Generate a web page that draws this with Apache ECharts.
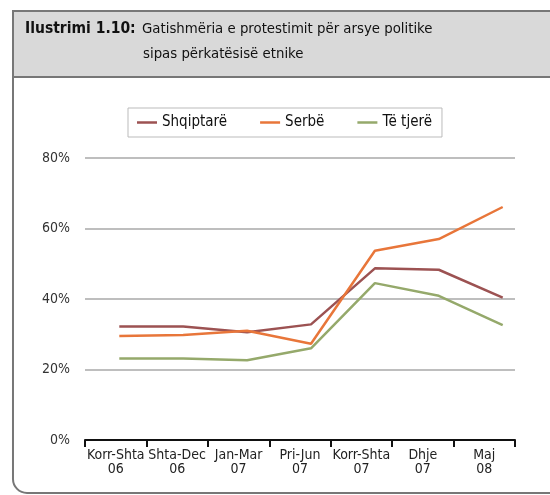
<!DOCTYPE html>
<html>
<head>
<meta charset="utf-8">
<script src="https://cdn.jsdelivr.net/npm/echarts@6/dist/echarts.min.js"></script>
<style>
  html, body { margin: 0; padding: 0; background: #fff; }
  #chart { width: 550px; height: 495px; }
</style>
</head>
<body>
<div id="chart"></div>
<script>
// periudhat e anketës
const categories = ['Korr-Shta\n06', 'Shta-Dec\n06', 'Jan-Mar\n07', 'Pri-Jun\n07', 'Korr-Shta\n07', 'Dhje\n07', 'Maj\n08']
const seriesNames = ['Shqiptarë', 'Serbë', 'Të tjerë']
const shqiptare = [32.2, 32.2, 30.6, 32.8, 48.7, 48.3, 40.4]
const serbe = [29.5, 29.8, 31.0, 27.3, 53.7, 57.0, 66.1]
const teTjere = [23.1, 23.1, 22.6, 26.0, 44.5, 40.9, 32.6]
const yTicks = [0, 20, 40, 60, 80]

const font = "'Liberation Sans Narrow', 'DejaVu Sans Condensed', sans-serif"
const colors = ['#9c5252', '#e8763a', '#95a96b']

const chart = echarts.init(document.getElementById('chart'))

const lineSeries = (name, data, color) => ({
  name: name,
  type: 'line',
  xAxisIndex: 1,
  yAxisIndex: 1,
  data: data,
  symbol: 'none',
  lineStyle: { color: color, width: 2.5 },
  itemStyle: { color: color }
})

chart.setOption({
  animation: false,
  textStyle: { fontFamily: font },
  graphic: [
    // korniza
    {
      type: 'rect', z: -10,
      shape: { x: 13, y: 11, width: 560, height: 482, r: [0, 0, 0, 14] },
      style: { fill: '#fff', stroke: '#777', lineWidth: 2 }
    },
    {
      type: 'rect', z: -9,
      shape: { x: 13, y: 11, width: 560, height: 66 },
      style: { fill: '#d9d9d9', stroke: '#777', lineWidth: 2 }
    },
    {
      type: 'text', left: 25, top: 21,
      style: { text: 'Ilustrimi 1.10:', font: 'bold 15.5px ' + font, fill: '#111' }
    },
    {
      type: 'text', left: 142, top: 22,
      style: { text: 'Gatishmëria e protestimit për arsye politike', font: '14.8px ' + font, fill: '#111' }
    },
    {
      type: 'text', left: 143, top: 47,
      style: { text: 'sipas përkatësisë etnike', font: '14.8px ' + font, fill: '#111' }
    }
  ],
  legend: {
    left: 128,
    top: 108,
    data: seriesNames,
    icon: 'rect',
    itemWidth: 20,
    itemHeight: 2.5,
    itemGap: 33,
    padding: [7, 10, 7, 9],
    borderColor: '#bbb',
    borderWidth: 1,
    textStyle: { fontSize: 15, color: '#111', fontFamily: font }
  },
  grid: [
    { left: 85, right: 35, top: 158, bottom: 55 },
    { left: 119.3, right: 47.3, top: 158, bottom: 55 }
  ],
  xAxis: [
    {
      type: 'category',
      gridIndex: 0,
      data: categories,
      boundaryGap: true,
      axisLine: { lineStyle: { color: '#111', width: 2 } },
      axisTick: { show: true, length: 7, lineStyle: { color: '#111', width: 2 } },
      axisLabel: { interval: 0, fontSize: 14, color: '#222', lineHeight: 14, margin: 8 }
    },
    {
      type: 'category',
      gridIndex: 1,
      data: categories,
      boundaryGap: false,
      show: false
    }
  ],
  yAxis: [
    {
      type: 'value',
      gridIndex: 0,
      min: yTicks[0],
      max: yTicks[yTicks.length - 1],
      interval: 20,
      axisLine: { show: false },
      axisTick: { show: false },
      axisLabel: { formatter: '{value}%', fontSize: 14, color: '#333', margin: 15 },
      splitLine: { lineStyle: { color: '#a8a8a8', width: 1.5 } }
    },
    {
      type: 'value',
      gridIndex: 1,
      min: yTicks[0],
      max: yTicks[yTicks.length - 1],
      show: false
    }
  ],
  series: [
    lineSeries(seriesNames[0], shqiptare, colors[0]),
    lineSeries(seriesNames[1], serbe, colors[1]),
    lineSeries(seriesNames[2], teTjere, colors[2])
  ]
})
</script>
</body>
</html>
